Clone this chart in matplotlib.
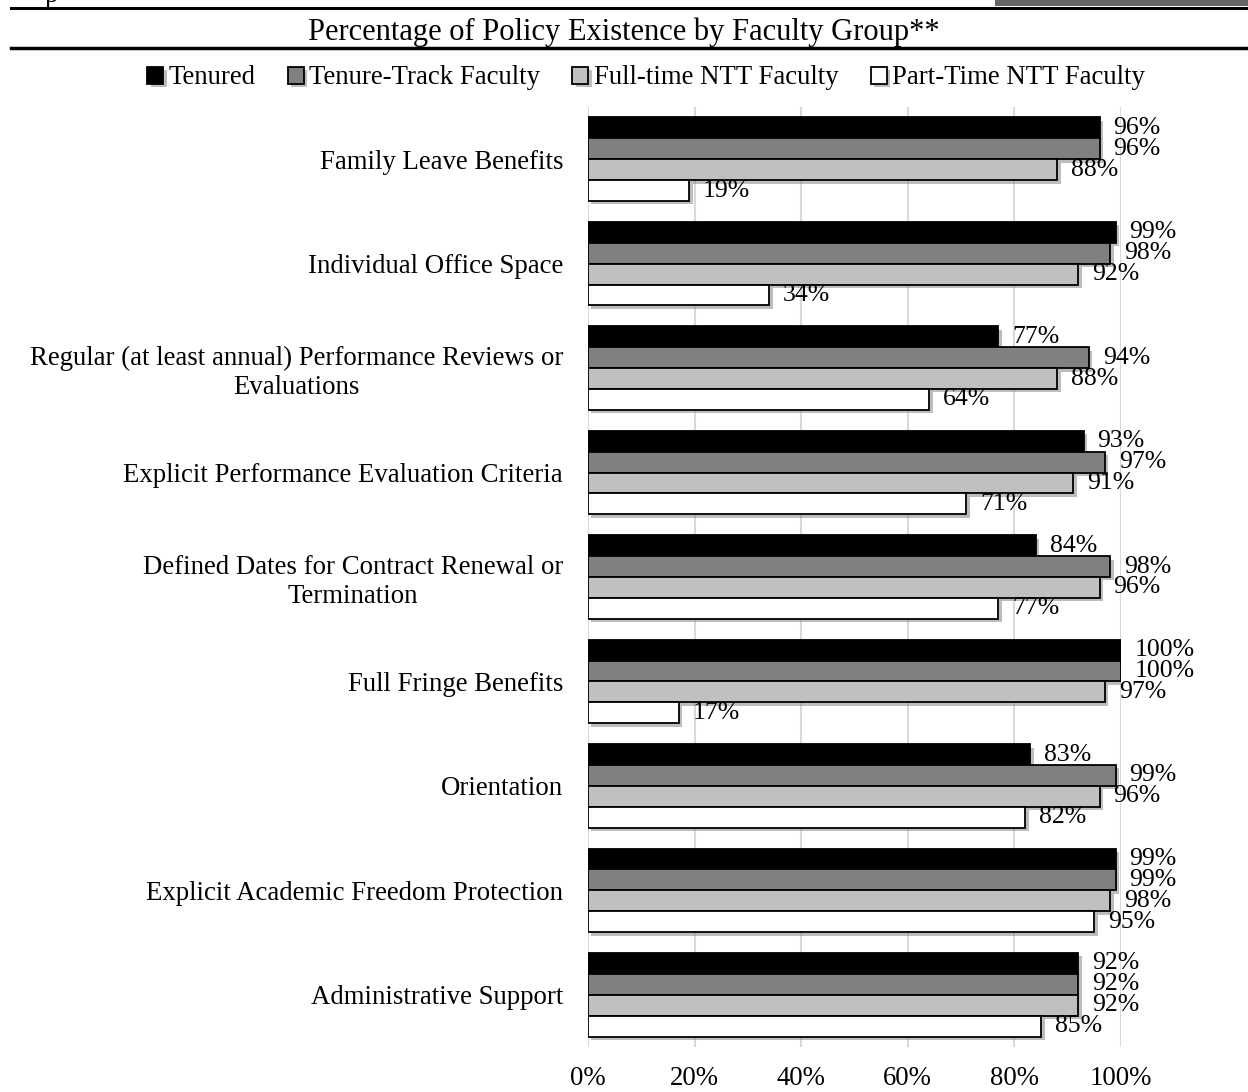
import matplotlib
matplotlib.use('Agg')
import matplotlib.pyplot as plt
import matplotlib.patheffects as pe
from matplotlib.lines import Line2D
from matplotlib.patches import Rectangle
import numpy as np

plt.rcParams['font.family'] = ['Liberation Serif', 'DejaVu Serif']

categories = ['Family Leave Benefits',
              'Individual Office Space',
              'Regular (at least annual) Performance Reviews or\nEvaluations',
              'Explicit Performance Evaluation Criteria',
              'Defined Dates for Contract Renewal or\nTermination',
              'Full Fringe Benefits',
              'Orientation',
              'Explicit Academic Freedom Protection',
              'Administrative Support']

tenured      = [96, 99, 77, 93, 84, 100, 83, 99, 92]
tenure_track = [96, 98, 94, 97, 98, 100, 99, 99, 92]
ft_ntt       = [88, 92, 88, 91, 96, 97, 96, 98, 92]
pt_ntt       = [19, 34, 64, 71, 77, 17, 82, 95, 85]

series = [('Tenured', tenured, '#000000'),
          ('Tenure-Track Faculty', tenure_track, '#808080'),
          ('Full-time NTT Faculty', ft_ntt, '#c0c0c0'),
          ('Part-Time NTT Faculty', pt_ntt, '#ffffff')]

xticks = [0, 20, 40, 60, 80, 100]
title = 'Percentage of Policy Existence by Faculty Group**'

FS = 19.3

fig = plt.figure(figsize=(12.48, 10.92), dpi=100)
ax = fig.add_axes([588/1248, 1-1047/1092, 533/1248, 940/1092])

y = np.arange(len(categories))
h = 0.2
shadow = [pe.SimplePatchShadow(offset=(2.5, -2.5), shadow_rgbFace='#888888', alpha=0.55), pe.Normal()]
handles = []
for k, (name, vals, col) in enumerate(series):
    pos = y - 0.3 + k*h
    bars = ax.barh(pos, vals, height=h, color=col, edgecolor='black', linewidth=1.3,
                   label=name, zorder=3)
    for b in bars:
        b.set_path_effects(shadow)
    for p, v in zip(pos, vals):
        ax.annotate('%d%%' % v, (v, p), xytext=(10, 0), textcoords='offset points',
                    ha='left', va='center', fontsize=18.5, zorder=4)
    handles.append(bars)

ax.set_xlim(0, 100)
ax.set_ylim(8.5, -0.5)
ax.set_xticks(xticks)
ax.set_xticklabels(['%d%%' % t for t in xticks], fontsize=FS)
ax.set_yticks(y)
ax.set_yticklabels(categories, fontsize=FS)
for t in ax.get_yticklabels():
    t.set_multialignment('center')
ax.tick_params(axis='both', length=0)
ax.tick_params(axis='y', pad=18)
ax.tick_params(axis='x', pad=14)
ax.grid(axis='x', color='#d9d9d9', linewidth=1.5, zorder=0)
for s in ax.spines.values():
    s.set_visible(False)

fig.legend(handles=handles, loc='center', bbox_to_anchor=(646/1248, 1-78/1092), ncol=4,
           frameon=False, fontsize=FS, handlelength=0.6, handleheight=0.6,
           handletextpad=0.2, columnspacing=1.2)

fig.text(0.5, 1-32/1092, title, ha='center', va='center', fontsize=22)

# header rules
fig.add_artist(Line2D([11/1248, 1], [1-7.5/1092]*2, color='black', lw=2.2))
fig.add_artist(Line2D([11/1248, 1], [1-48/1092]*2, color='black', lw=2.5))
fig.add_artist(Rectangle((995/1248, 1-6/1092), 1, 6/1092, color='#666666', lw=0))
fig.text(45/1248, 1-2/1092, 'p', ha='left', va='baseline', fontsize=FS)

fig.savefig('out.png', dpi=100)
